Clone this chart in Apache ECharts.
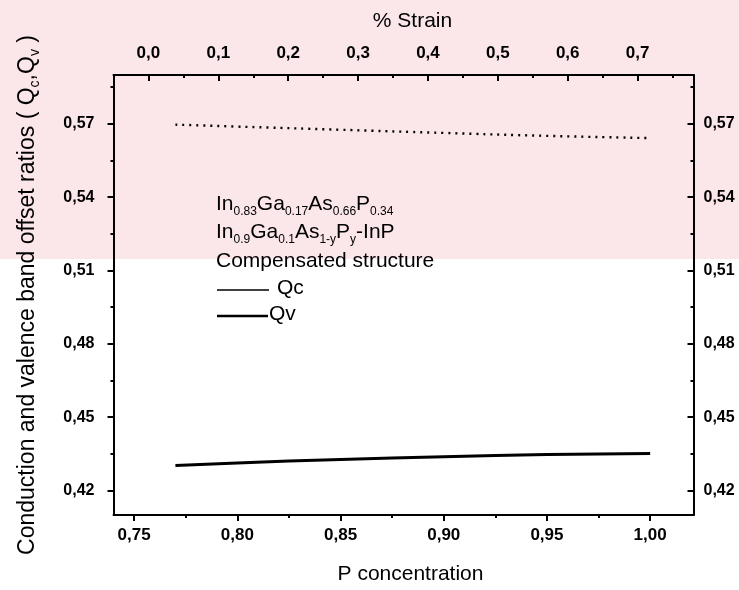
<!DOCTYPE html>
<html>
<head>
<meta charset="utf-8">
<script src="https://cdn.jsdelivr.net/npm/echarts@6/dist/echarts.min.js"></script>
<style>
html,body{margin:0;padding:0;background:#fff;}
#chart{width:739px;height:590px;}
</style>
</head>
<body>
<div id="chart"></div>
<script>
// ---- data ----
var pConcentration = [0.77, 0.80, 0.85, 0.90, 0.95, 1.00];
var qcValues = [0.5697, 0.5689, 0.5676, 0.5663, 0.5651, 0.5642];
var qvValues = [0.4303, 0.4313, 0.4327, 0.4338, 0.4347, 0.4352];

var pTicks = [0.75, 0.80, 0.85, 0.90, 0.95, 1.00];
var pMinorTicks = [0.775, 0.825, 0.875, 0.925, 0.975];
var strainTicks = [0.0, 0.1, 0.2, 0.3, 0.4, 0.5, 0.6, 0.7];
var strainMinorTicks = [0.05, 0.15, 0.25, 0.35, 0.45, 0.55, 0.65, 0.75];
var qTicks = [0.42, 0.45, 0.48, 0.51, 0.54, 0.57];
var qMinorTicks = [0.435, 0.465, 0.495, 0.525, 0.555, 0.585];

var FONT = 'Liberation Sans, Arial, sans-serif';

function toPairs(xs, ys) {
  var out = [];
  for (var i = 0; i < xs.length; i++) out.push([xs[i], ys[i]]);
  return out;
}
function comma(d) {
  return function (v) { return v.toFixed(d).replace('.', ','); };
}

var xLabelStyle = { fontFamily: FONT, fontSize: 17, fontWeight: 'bold', color: '#000' };
var yLabelStyle = { fontFamily: FONT, fontSize: 16, fontWeight: 'bold', color: '#000' };
var axisLine = { show: true, onZero: false, lineStyle: { color: '#000', width: 2 } };

function minorAxis(base) {
  return Object.assign({
    type: 'value',
    axisLine: { show: false, onZero: false },
    axisLabel: { show: false },
    splitLine: { show: false }
  }, base);
}

var chart = echarts.init(document.getElementById('chart'), null, { renderer: 'canvas' });

var legendRich = {
  s: { fontFamily: FONT, fontSize: 12, lineHeight: 13, padding: [15, 0, 0, 0], color: '#000' },
  b: { fontFamily: FONT, fontSize: 21, lineHeight: 26, color: '#000' }
};
var titleRich = {
  s: { fontFamily: FONT, fontSize: 14, lineHeight: 14, padding: [15, 0, 0, 0], color: '#000' },
  b: { fontFamily: FONT, fontSize: 23, lineHeight: 28, color: '#000' }
};

var option = {
  backgroundColor: '#ffffff',
  animation: false,
  grid: { left: 113.5, right: 45.5, top: 75, bottom: 69, containLabel: false },
  xAxis: [
    {
      type: 'value', position: 'bottom', min: 0.74, max: 1.021,
      axisLine: axisLine,
      axisTick: { show: true, inside: false, length: 6, lineStyle: { color: '#000', width: 2 }, customValues: pTicks },
      axisLabel: Object.assign({ margin: 12, customValues: pTicks, formatter: comma(2) }, xLabelStyle),
      splitLine: { show: false },
      name: 'P concentration', nameLocation: 'middle', nameGap: 49,
      nameTextStyle: { fontFamily: FONT, fontSize: 21, color: '#000', padding: [0, 0, 0, 14] }
    },
    {
      type: 'value', position: 'top', min: -0.05, max: 0.78,
      axisLine: axisLine,
      axisTick: { show: true, inside: true, length: 6, lineStyle: { color: '#000', width: 2 }, customValues: strainTicks },
      axisLabel: Object.assign({ margin: 13, customValues: strainTicks, formatter: comma(1) }, xLabelStyle),
      splitLine: { show: false },
      name: '% Strain', nameLocation: 'middle', nameGap: 43,
      nameTextStyle: { fontFamily: FONT, fontSize: 21, color: '#000', padding: [0, 0, 0, 18] }
    },
    minorAxis({ position: 'bottom', min: 0.74, max: 1.021,
      axisTick: { show: true, inside: false, length: 3, lineStyle: { color: '#000', width: 2 }, customValues: pMinorTicks } }),
    minorAxis({ position: 'top', min: -0.05, max: 0.78,
      axisTick: { show: true, inside: true, length: 3, lineStyle: { color: '#000', width: 2 }, customValues: strainMinorTicks } })
  ],
  yAxis: [
    {
      type: 'value', position: 'left', min: 0.41, max: 0.59,
      axisLine: axisLine,
      axisTick: { show: true, inside: false, length: 6, lineStyle: { color: '#000', width: 2 }, customValues: qTicks },
      axisLabel: Object.assign({ margin: 19, customValues: qTicks, formatter: comma(2) }, yLabelStyle),
      splitLine: { show: false },
      name: '{b|Conduction and valence band offset ratios ( Q}{s|c}{b|,Q}{s|v}{b| )}',
      nameLocation: 'middle', nameRotate: 90, nameGap: 72,
      nameTextStyle: { fontFamily: FONT, fontSize: 23, lineHeight: 28, color: '#000', rich: titleRich }
    },
    {
      type: 'value', position: 'right', min: 0.41, max: 0.59,
      axisLine: axisLine,
      axisTick: { show: true, inside: true, length: 6, lineStyle: { color: '#000', width: 2 }, customValues: qTicks },
      axisLabel: Object.assign({ margin: 10, customValues: qTicks, formatter: comma(2) }, yLabelStyle),
      splitLine: { show: false }
    },
    minorAxis({ position: 'left', min: 0.41, max: 0.59,
      axisTick: { show: true, inside: false, length: 3, lineStyle: { color: '#000', width: 2 }, customValues: qMinorTicks } }),
    minorAxis({ position: 'right', min: 0.41, max: 0.59,
      axisTick: { show: true, inside: true, length: 3, lineStyle: { color: '#000', width: 2 }, customValues: qMinorTicks } })
  ],
  graphic: [
    { type: 'rect', z: -10, silent: true, shape: { x: 0, y: 0, width: 739, height: 259 }, style: { fill: '#fbe7ea' } },
    {
      type: 'text', left: 216, top: 191, z: 10,
      style: { text: '{b|In}{s|0.83}{b|Ga}{s|0.17}{b|As}{s|0.66}{b|P}{s|0.34}', rich: legendRich }
    },
    {
      type: 'text', left: 216, top: 219, z: 10,
      style: { text: '{b|In}{s|0.9}{b|Ga}{s|0.1}{b|As}{s|1-y}{b|P}{s|y}{b|-InP}', rich: legendRich }
    },
    {
      type: 'text', left: 216, top: 251, z: 10,
      style: { text: 'Compensated structure', fontFamily: FONT, fontSize: 21, fill: '#000' }
    },
    { type: 'line', z: 10, shape: { x1: 217, y1: 290, x2: 269, y2: 290 }, style: { stroke: '#000', lineWidth: 1.3 } },
    { type: 'text', left: 277, top: 278, z: 10, style: { text: 'Qc', fontFamily: FONT, fontSize: 21, fill: '#000' } },
    { type: 'line', z: 10, shape: { x1: 217, y1: 316, x2: 268, y2: 316 }, style: { stroke: '#000', lineWidth: 2.6 } },
    { type: 'text', left: 269, top: 304, z: 10, style: { text: 'Qv', fontFamily: FONT, fontSize: 21, fill: '#000' } }
  ],
  series: [
    {
      name: 'Qc', type: 'line', xAxisIndex: 0, yAxisIndex: 0,
      data: toPairs(pConcentration, qcValues),
      showSymbol: false, symbol: 'none', smooth: true,
      lineStyle: { color: '#000', width: 2.4, type: [2, 5] }
    },
    {
      name: 'Qv', type: 'line', xAxisIndex: 0, yAxisIndex: 0,
      data: toPairs(pConcentration, qvValues),
      showSymbol: false, symbol: 'none', smooth: true,
      lineStyle: { color: '#000', width: 3 }
    }
  ]
};
chart.setOption(option);
</script>
</body>
</html>
